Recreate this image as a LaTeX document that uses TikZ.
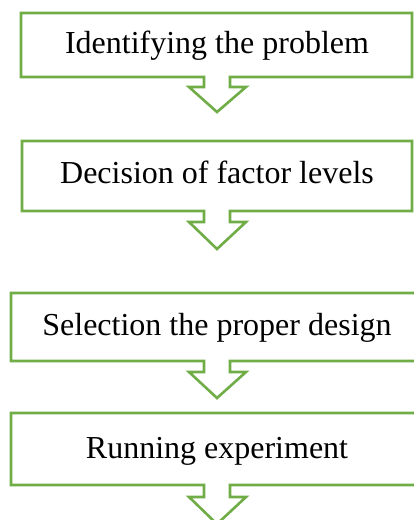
\documentclass[tikz,border=0pt]{standalone}
\usepackage{fontspec}
\setmainfont{Liberation Serif}
\definecolor{stepgreen}{HTML}{70AD47}
\tikzset{
  outline/.style={draw=stepgreen, line width=2.6pt, line join=miter, fill=white},
  steptext/.style={anchor=base, inner sep=0pt, font=\fontsize{32}{38}\selectfont, text=black},
}
% #1 left, #2 right, #3 top, #4 bottom, #5 stem bottom (arrow head base), #6 tip y
\newcommand{\arrowcallout}[6]{%
  \draw[outline] (#1,#3) -- (#2,#3) -- (#2,#4) -- (230,#4) -- (230,#5)
    -- (246,#5) -- (217,#6) -- (189,#5) -- (204,#5) -- (204,#4) -- (#1,#4) -- cycle;
}
\begin{document}
\begin{tikzpicture}[x=1pt,y=-1pt]
  \useasboundingbox (0,0) rectangle (414,520);
  \clip (0,0) rectangle (414,520);
  % four process steps, each a box with a down-pointing arrow
  \arrowcallout{21}{412}{13}{77}{87}{112}
  \arrowcallout{22}{412}{141}{211}{222}{249}
  \arrowcallout{11}{440}{293}{361}{372}{398}
  \arrowcallout{11}{440}{413}{485}{497}{524}
  \node[steptext] (s1) at (217,53) {Identifying the problem};
  \node[steptext] (s2) at (217,183) {Decision of factor levels};
  \node[steptext] (s3) at (217,335) {Selection the proper design};
  \node[steptext] (s4) at (217,458) {Running experiment};
\end{tikzpicture}
\end{document}
